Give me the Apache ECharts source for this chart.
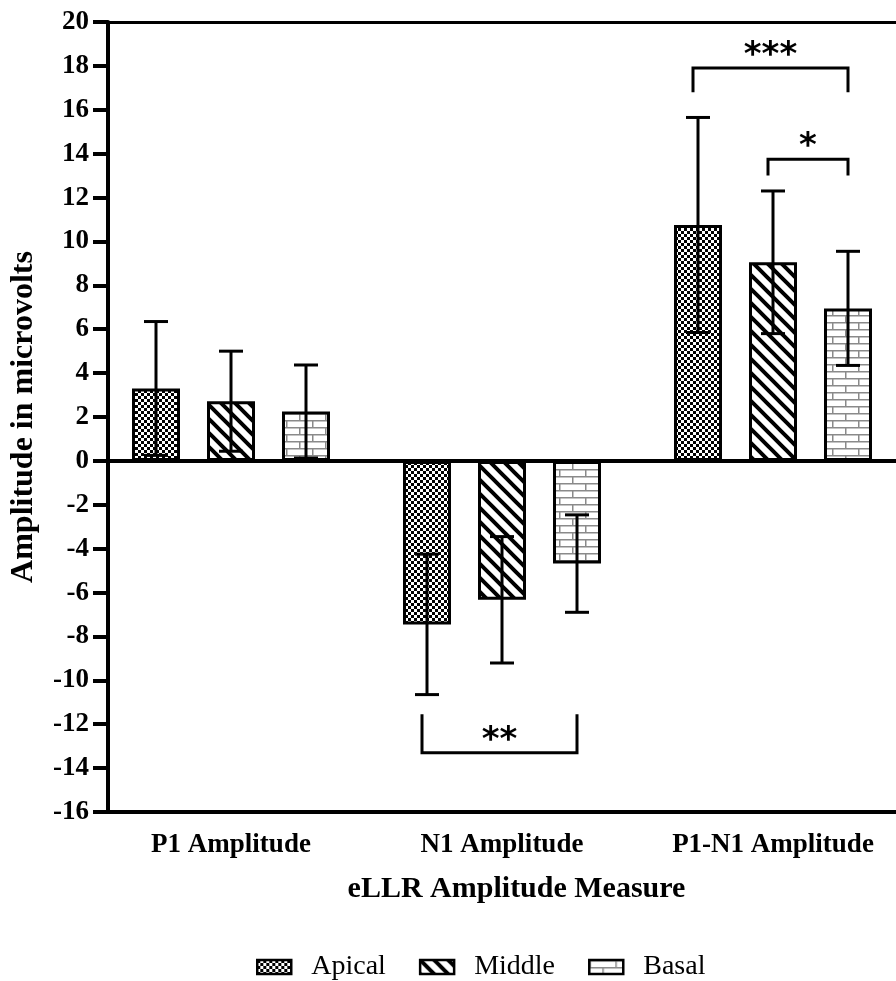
<!DOCTYPE html>
<html><head><meta charset="utf-8">
<script src="https://cdn.jsdelivr.net/npm/echarts@6/dist/echarts.min.js"></script>
<style>html,body{margin:0;padding:0;background:#fff}#c{width:896px;height:981px}</style>
</head><body><div id="c"></div>
<script>
const categories = ['P1 Amplitude', 'N1 Amplitude', 'P1-N1 Amplitude'];
const seriesNames = ['Apical', 'Middle', 'Basal'];
const apicalMean = [3.3, -7.45, 10.75];
const apicalSD = [3.05, 3.2, 4.9];
const middleMean = [2.72, -6.33, 9.05];
const middleSD = [2.28, 2.88, 3.25];
const basalMean = [2.25, -4.68, 6.95];
const basalSD = [2.12, 2.22, 2.6];
const yMin = -16, yMax = 20, yInterval = 2;
// significance brackets
const sigCategory = [2, 2, 1];
const sigFrom = [0, 1, 0];
const sigTo = [2, 2, 2];
const sigLevel = [17.9, 13.75, -13.3];
const sigLegEnd = [16.8, 13.0, -11.55];
const sigLabel = ['***', '*', '**'];

const BAR_W = 48, BAR_GAP = 0.5625;
const STEP = BAR_W * (1 + BAR_GAP);

function makeCanvas(w, h, draw) {
  const c = document.createElement('canvas'); c.width = w; c.height = h;
  const g = c.getContext('2d'); g.fillStyle = '#fff'; g.fillRect(0, 0, w, h); draw(g); return c;
}
const checker = makeCanvas(6, 6, g => { g.fillStyle = '#000'; g.fillRect(0, 0, 3, 3); g.fillRect(3, 3, 3, 3); });
const stripes = makeCanvas(14, 14, g => {
  g.strokeStyle = '#000'; g.lineWidth = 4; g.beginPath();
  for (let k = -1; k <= 1; k++) { g.moveTo(k * 14 - 3, -3); g.lineTo(k * 14 + 17, 17); }
  g.stroke();
});
const bricks = makeCanvas(26, 14, g => {
  g.fillStyle = '#8a8a8a';
  g.fillRect(0, 0, 26, 1.5); g.fillRect(0, 7, 26, 1.5);
  g.fillRect(0, 0, 1.5, 7); g.fillRect(13, 7, 1.5, 7);
});
const patterns = [checker, stripes, bricks].map(c => ({ image: c, repeat: 'repeat' }));
const means = [apicalMean, middleMean, basalMean];
const sds = [apicalSD, middleSD, basalSD];

const barSeries = seriesNames.map((n, s) => ({
  name: n, type: 'bar', data: means[s], barWidth: BAR_W, barGap: (BAR_GAP * 100) + '%',
  itemStyle: { color: patterns[s], borderColor: '#000', borderWidth: 3 },
  emphasis: { disabled: true }, z: 2,
  markLine: s === 0 ? {
    silent: true, symbol: 'none', label: { show: false },
    lineStyle: { color: '#000', width: 4, type: 'solid' },
    data: [{ yAxis: 0 }, { yAxis: yMax, lineStyle: { width: 3 } }]
  } : undefined
}));

const errSeries = seriesNames.map((n, s) => ({
  type: 'custom', name: n + ' SD', silent: true, z: 5,
  data: means[s].map((m, i) => [i, m - sds[s][i], m + sds[s][i]]),
  encode: { x: 0, y: [1, 2] },
  renderItem: (params, api) => {
    const lo = api.coord([api.value(0), api.value(1)]);
    const hi = api.coord([api.value(0), api.value(2)]);
    const x = lo[0] + (s - 1) * STEP;
    const st = { stroke: '#000', lineWidth: 3 };
    return { type: 'group', children: [
      { type: 'line', shape: { x1: x, y1: lo[1], x2: x, y2: hi[1] }, style: st },
      { type: 'line', shape: { x1: x - 12, y1: lo[1], x2: x + 12, y2: lo[1] }, style: st },
      { type: 'line', shape: { x1: x - 12, y1: hi[1], x2: x + 12, y2: hi[1] }, style: st }
    ] };
  }
}));

const sigSeries = {
  type: 'custom', name: 'sig', silent: true, z: 6,
  data: sigCategory.map((c, i) => [c, sigLevel[i], sigLegEnd[i], sigFrom[i], sigTo[i]]),
  encode: { x: 0, y: [1, 2] },
  renderItem: (params, api) => {
    const i = params.dataIndex;
    const p = api.coord([api.value(0), api.value(1)]);
    const q = api.coord([api.value(0), api.value(2)]);
    const x1 = p[0] + (api.value(3) - 1) * STEP - 5;
    const x2 = p[0] + (api.value(4) - 1) * STEP;
    return { type: 'group', children: [
      { type: 'polyline', shape: { points: [[x1, q[1]], [x1, p[1]], [x2, p[1]], [x2, q[1]]] },
        style: { stroke: '#000', lineWidth: 3, fill: null } },
      { type: 'text', x: (x1 + x2) / 2, y: p[1] - 12,
        style: { text: sigLabel[i], font: 'bold 34px "DejaVu Sans"', fill: '#000',
          align: 'center', verticalAlign: 'middle' } }
    ] };
  }
};

const chart = echarts.init(document.getElementById('c'), null, { renderer: 'canvas' });
chart.setOption({
  animation: false,
  backgroundColor: '#fff',
  grid: { left: 95.5, right: -12.5, top: 22, bottom: 169, outerBoundsMode: 'none', containLabel: false },
  legend: {
    data: seriesNames, left: 251, top: 948, icon: 'rect', itemWidth: 34, itemHeight: 14, itemGap: 33,
    itemStyle: { borderColor: '#000', borderWidth: 2.5 },
    textStyle: { fontFamily: 'Liberation Serif', fontSize: 28, color: '#000', padding: [0, 0, 0, 15] }
  },
  xAxis: {
    type: 'category', data: categories, position: 'bottom',
    axisLine: { onZero: false, lineStyle: { color: '#000', width: 4 } },
    axisTick: { alignWithLabel: true, length: 16, lineStyle: { color: '#000', width: 3 } },
    axisLabel: { fontFamily: 'Liberation Serif', fontWeight: 'bold', fontSize: 27, color: '#000', margin: 20 },
    name: 'eLLR Amplitude Measure', nameLocation: 'middle', nameGap: 62,
    nameTextStyle: { fontFamily: 'Liberation Serif', fontWeight: 'bold', fontSize: 30, color: '#000', padding: [0, 0, 0, 29] }
  },
  yAxis: {
    type: 'value', min: yMin, max: yMax, interval: yInterval, offset: -12.5,
    splitLine: { show: false },
    axisLine: { show: true, lineStyle: { color: '#000', width: 4 } },
    axisTick: { show: true, length: 15, lineStyle: { color: '#000', width: 4 } },
    axisLabel: { fontFamily: 'Liberation Serif', fontWeight: 'bold', fontSize: 27, color: '#000', margin: 19 },
    name: 'Amplitude in microvolts', nameLocation: 'middle', nameGap: 68,
    nameTextStyle: { fontFamily: 'Liberation Serif', fontWeight: 'bold', fontSize: 32, color: '#000' }
  },
  series: [...barSeries, ...errSeries, sigSeries]
});
</script></body></html>
